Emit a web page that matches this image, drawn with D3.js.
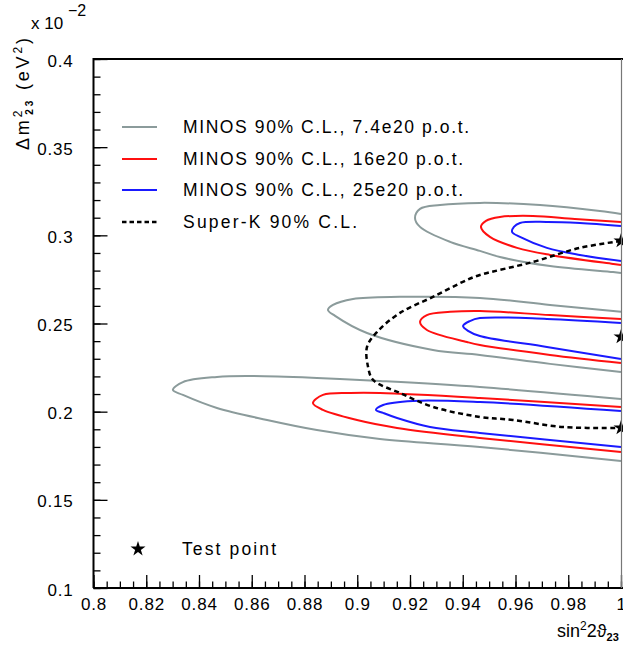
<!DOCTYPE html>
<html>
<head>
<meta charset="utf-8">
<script src="https://cdn.jsdelivr.net/npm/d3@7"></script>
<style>
  body { margin: 0; background: #fff; }
  svg { display: block; }
  text { font-family: "Liberation Sans", Arial, sans-serif; fill: #000; }
</style>
</head>
<body>
<div id="chart"></div>
<script>
// axis ticks (Δm² in units of 1e-2 eV²)
const xTicks = [0.8, 0.82, 0.84, 0.86, 0.88, 0.9, 0.92, 0.94, 0.96, 0.98, 1];
const yTicks = [0.1, 0.15, 0.2, 0.25, 0.3, 0.35, 0.4];

// legend entries
const legendLabels = [
  "MINOS 90% C.L., 7.4e20 p.o.t.",
  "MINOS 90% C.L., 16e20 p.o.t.",
  "MINOS 90% C.L., 25e20 p.o.t.",
  "Super-K 90% C.L."
];
const legendWidths = [286, 280, 280, 174];

// test points (sin², Δm²)
const testPoints = [[1.0, 0.2968], [1.0, 0.2424], [1.0, 0.1908]];

// contours: [sin²2θ, Δm²] from upper branch through the tip to lower branch
const grey_top = [[1.0, 0.3121], [0.992, 0.3138], [0.9693, 0.3172], [0.9465, 0.3184], [0.9314, 0.3172],
  [0.9238, 0.3150], [0.9219, 0.3099], [0.9238, 0.3048], [0.9352, 0.2963], [0.9465, 0.2912],
  [0.9541, 0.2877], [0.9731, 0.2826], [0.997, 0.2792], [1.0, 0.2787]];
const red_top = [[1.0, 0.3076], [0.9825, 0.3093], [0.9666, 0.3110], [0.9541, 0.3104], [0.9488, 0.3082],
  [0.9469, 0.3048], [0.9503, 0.2991], [0.9606, 0.2929], [0.9731, 0.2889], [0.997, 0.2838], [1.0, 0.2832]];
const blue_top = [[1.0, 0.3053], [0.9844, 0.3070], [0.9719, 0.3076], [0.9617, 0.3070], [0.9594, 0.3048],
  [0.9587, 0.3019], [0.9617, 0.2991], [0.9719, 0.2929], [0.9844, 0.2889], [1.0, 0.2855]];

const grey_mid = [[1.0, 0.2566], [0.9731, 0.2605], [0.9465, 0.2645], [0.9162, 0.2651], [0.8984, 0.2639],
  [0.8908, 0.2605], [0.8889, 0.2577], [0.8916, 0.2543], [0.9037, 0.2446], [0.9287, 0.2350],
  [0.9465, 0.2322], [0.9731, 0.2271], [1.0, 0.2225]];
const red_mid = [[1.0, 0.2526], [0.9731, 0.2548], [0.9465, 0.2571], [0.9352, 0.2566], [0.9264, 0.2548],
  [0.9238, 0.2509], [0.9264, 0.2463], [0.9416, 0.2395], [0.9465, 0.2378], [0.9731, 0.2322], [1.0, 0.2276]];
const blue_mid = [[1.0, 0.2503], [0.9719, 0.2526], [0.9465, 0.2531], [0.9427, 0.2514], [0.9401, 0.2486],
  [0.9420, 0.2458], [0.9465, 0.2429], [0.9719, 0.2367], [1.0, 0.2299]];

const grey_low = [[1.0, 0.2072], [0.9465, 0.2140], [0.9086, 0.2174], [0.8847, 0.2191], [0.8593, 0.2202],
  [0.8468, 0.2197], [0.8339, 0.2168], [0.8301, 0.2123], [0.8339, 0.2095], [0.8468, 0.2021],
  [0.8658, 0.1953], [0.8847, 0.1896], [0.9086, 0.1845], [0.9465, 0.1800], [1.0, 0.1720]];
const red_low = [[1.0, 0.2027], [0.9465, 0.2078], [0.9086, 0.2106], [0.8973, 0.2106], [0.8870, 0.2095],
  [0.8832, 0.2049], [0.8870, 0.2010], [0.8999, 0.1953], [0.9151, 0.1908], [0.9465, 0.1851], [1.0, 0.1771]];
const blue_low = [[1.0, 0.2004], [0.9465, 0.2055], [0.9211, 0.2061], [0.9098, 0.2038], [0.9071, 0.2010],
  [0.9098, 0.1993], [0.9151, 0.1964], [0.9276, 0.1913], [0.9465, 0.1879], [1.0, 0.1800]];

const superk = [[1.0, 0.2968], [0.9844, 0.2929], [0.9666, 0.2849], [0.9465, 0.2775], [0.9416, 0.2747],
  [0.9287, 0.2651], [0.9162, 0.2560], [0.9075, 0.2452], [0.9037, 0.2367], [0.9041, 0.2254],
  [0.9060, 0.2180], [0.9162, 0.2106], [0.9287, 0.2027], [0.9465, 0.1970], [0.9590, 0.1953],
  [0.9780, 0.1913], [1.0, 0.1908]];

const GREY = "#8b9b9b", RED = "#ff1010", BLUE = "#1a1aff";

const width = 623, height = 646;
const x = d3.scaleLinear().domain([0.8, 1]).range([93.5, 621]);
const y = d3.scaleLinear().domain([0.1, 0.4]).range([588, 59]);

const svg = d3.select("#chart").append("svg")
  .attr("width", width).attr("height", height);

// contours
const line = d3.line()
  .x(d => x(d[0])).y(d => y(d[1]))
  .curve(d3.curveCatmullRom.alpha(0.5));

const contours = [
  {pts: grey_top, color: GREY}, {pts: grey_mid, color: GREY}, {pts: grey_low, color: GREY},
  {pts: red_top, color: RED}, {pts: red_mid, color: RED}, {pts: red_low, color: RED},
  {pts: blue_top, color: BLUE}, {pts: blue_mid, color: BLUE}, {pts: blue_low, color: BLUE}
];

svg.selectAll(".contour")
  .data(contours)
  .enter().append("path")
  .attr("class", "contour")
  .attr("d", d => line(d.pts))
  .attr("fill", "none")
  .attr("stroke", d => d.color)
  .attr("stroke-width", 2);

svg.append("path")
  .attr("d", line(superk))
  .attr("fill", "none")
  .attr("stroke", "#000")
  .attr("stroke-width", 2.5)
  .attr("stroke-dasharray", "5,3.5");

// stars
const star = d3.symbol().type(d3.symbolStar).size(70);
svg.selectAll(".tp")
  .data(testPoints)
  .enter().append("path")
  .attr("class", "tp")
  .attr("d", star)
  .attr("transform", d => "translate(" + x(d[0]) + "," + y(d[1]) + ")")
  .attr("fill", "#000");

// axes
const xMinor = d3.range(0, 41).map(i => 0.8 + i * 0.005);
const yMinor = d3.range(0, 31).map(i => 0.1 + i * 0.01);

svg.append("g")
  .attr("transform", "translate(0," + y(0.1) + ")")
  .call(d3.axisBottom(x).tickValues(xMinor).tickSize(-6.5).tickFormat(""))
  .call(g => g.select(".domain").remove());
svg.append("g")
  .attr("transform", "translate(0," + y(0.1) + ")")
  .call(d3.axisBottom(x).tickValues(xTicks).tickSize(-13).tickPadding(10).tickFormat(d => String(d)))
  .call(g => g.select(".domain").remove())
  .call(g => g.selectAll("text").style("font-size", "17px").style("letter-spacing", "0.8px")
    .style("font-family", "'Liberation Sans', Arial, sans-serif"));

svg.append("g")
  .attr("transform", "translate(" + x(0.8) + ",0)")
  .call(d3.axisLeft(y).tickValues(yMinor).tickSize(-7).tickFormat(""))
  .call(g => g.select(".domain").remove());
svg.append("g")
  .attr("transform", "translate(" + x(0.8) + ",0)")
  .call(d3.axisLeft(y).tickValues(yTicks).tickSize(-14).tickPadding(20).tickFormat(d => String(d)))
  .call(g => g.select(".domain").remove())
  .call(g => g.selectAll("text").style("font-size", "17px").style("letter-spacing", "0.8px")
    .attr("dy", "0.42em")
    .style("font-family", "'Liberation Sans', Arial, sans-serif"));

svg.selectAll(".tick line").attr("stroke", "#000").attr("stroke-width", 1.3);

// frame
svg.append("path")
  .attr("d", "M" + x(0.8) + "," + y(0.1) + "V" + y(0.4) + "H" + width)
  .attr("fill", "none").attr("stroke", "#000").attr("stroke-width", 2);
svg.append("path")
  .attr("d", "M" + x(0.8) + "," + y(0.1) + "H" + width)
  .attr("fill", "none").attr("stroke", "#000").attr("stroke-width", 2);
svg.append("line")
  .attr("x1", x(1) + 0.5).attr("x2", x(1) + 0.5).attr("y1", y(0.4)).attr("y2", y(0.1))
  .attr("stroke", "#777").attr("stroke-width", 1.2);

// axis titles
svg.append("text").attr("x", 31).attr("y", 29).style("font-size", "17px").text("x 10");
svg.append("text").attr("x", 68).attr("y", 16).style("font-size", "16px").text("\u22122");

const yl = svg.append("text")
  .attr("transform", "translate(29,38) rotate(-90)")
  .attr("text-anchor", "end")
  .attr("textLength", 112)
  .attr("lengthAdjust", "spacing")
  .style("font-size", "18px");
yl.append("tspan").text("\u0394m");
yl.append("tspan").attr("dy", -7).style("font-size", "12px").text("2");
yl.append("tspan").attr("dx", -7).attr("dy", 11).style("font-size", "10px").style("font-weight", "bold").text("23");
yl.append("tspan").attr("dy", -4).text(" (eV");
yl.append("tspan").attr("dy", -7).style("font-size", "12px").text("2");
yl.append("tspan").attr("dy", 7).text(")");

const xl = svg.append("text")
  .attr("x", 557).attr("y", 637)
  .style("font-size", "18px");
xl.append("tspan").text("sin");
xl.append("tspan").attr("dy", -7).style("font-size", "12px").text("2");
xl.append("tspan").attr("dy", 7).text("2\u03d1");
xl.append("tspan").attr("dy", 4).style("font-size", "11px").style("font-weight", "bold").text("23");

// legend
const legendY = [127, 159, 190, 222];
const legendStyles = [
  {color: GREY, dash: null}, {color: RED, dash: null}, {color: BLUE, dash: null}, {color: "#000", dash: "4.5,3"}
];
const lg = svg.append("g");
legendLabels.forEach((label, i) => {
  lg.append("line")
    .attr("x1", 122).attr("x2", 157)
    .attr("y1", legendY[i]).attr("y2", legendY[i])
    .attr("stroke", legendStyles[i].color)
    .attr("stroke-width", i === 3 ? 2.5 : 2)
    .attr("stroke-dasharray", legendStyles[i].dash);
  lg.append("text")
    .attr("x", 183).attr("y", legendY[i] + 6)
    .attr("textLength", legendWidths[i])
    .attr("lengthAdjust", "spacing")
    .style("font-size", "17.5px")
    .text(label);
});

lg.append("path")
  .attr("d", star)
  .attr("transform", "translate(138,549)")
  .attr("fill", "#000");
lg.append("text")
  .attr("x", 182).attr("y", 555)
  .attr("textLength", 94)
  .attr("lengthAdjust", "spacing")
  .style("font-size", "17.5px")
  .text("Test point");
</script>
</body>
</html>
